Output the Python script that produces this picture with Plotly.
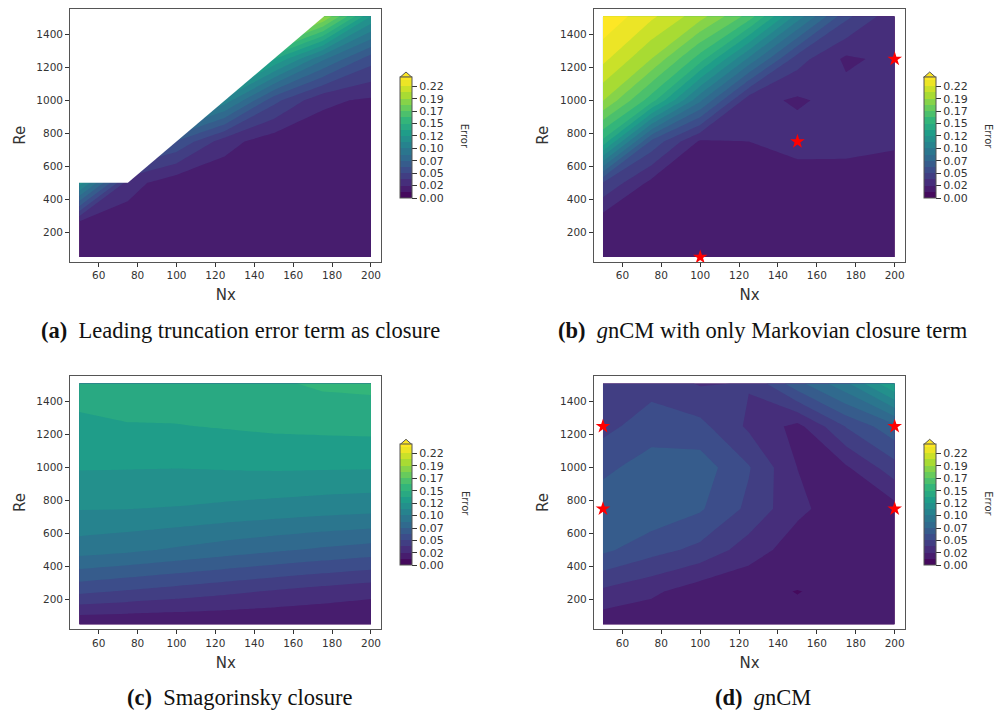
import plotly.graph_objects as go

NX = [50, 75, 100, 125, 150, 175, 200]
RE = [50, 250, 500, 750, 1000, 1250, 1510]

# rows follow RE, columns follow NX (values above the diagonal of panel a are hidden by its mask)
Z_A = [
    [.0140, .0140, .0140, .0140, .0140, .0140, .0140],
    [.0180, .0175, .0150, .0150, .0150, .0150, .0150],
    [.1170, .0300, .0160, .0155, .0150, .0150, .0150],
    [.1700, .0740, .0600, .0293, .0170, .0170, .0165],
    [.2000, .1200, .1360, .1050, .0530, .0268, .0225],
    [.2400, .2000, .1800, .1870, .1350, .0880, .0540],
    [.2600, .2600, .2500, .2500, .2470, .1980, .1220],
]
Z_B = [
    [.0140, .0140, .0140, .0140, .0140, .0140, .0140],
    [.0155, .0150, .0150, .0150, .0150, .0150, .0150],
    [.0480, .0210, .0170, .0165, .0163, .0165, .0165],
    [.1430, .0578, .0225, .0244, .0305, .0300, .0265],
    [.1960, .1520, .0880, .0290, .0225, .0295, .0290],
    [.2230, .1950, .1520, .0950, .0417, .0220, .0280],
    [.2420, .2222, .2003, .1660, .1050, .0520, .0280],
]
Z_C = [
    [.0134, .0133, .0131, .0130, .0128, .0127, .0125],
    [.0519, .0475, .0435, .0395, .0355, .0315, .0280],
    [.0911, .0880, .0835, .0790, .0750, .0710, .0675],
    [.1103, .1100, .1090, .1070, .1050, .1030, .1015],
    [.1229, .1226, .1223, .1230, .1236, .1232, .1229],
    [.1313, .1335, .1337, .1350, .1365, .1372, .1379],
    [.1400, .1410, .1420, .1430, .1445, .1485, .1495],
]
Z_D = [
    [.0165, .0155, .0150, .0140, .0140, .0140, .0140],
    [.0341, .0270, .0173, .0139, .0120, .0140, .0145],
    [.0636, .0533, .0454, .0306, .0180, .0165, .0165],
    [.0680, .0700, .0625, .0460, .0272, .0175, .0199],
    [.0581, .0665, .0675, .0498, .0243, .0228, .0438],
    [.0450, .0553, .0524, .0344, .0205, .0495, .0700],
    [.0440, .0440, .0355, .0373, .0693, .0950, .1350],
]

LEVEL_STEP = 0.0122
LEVEL_TOP = 0.2318
Z_MAX = 0.2378
CBAR_TICKS = [0, .0244, .0488, .0732, .0976, .122, .1464, .1708, .1952, .2196]
CBAR_LABELS = ["0.00", "0.02", "0.05", "0.07", "0.10", "0.12", "0.15", "0.17", "0.19", "0.22"]
X_TICKS = [60, 80, 100, 120, 140, 160, 180, 200]
Y_TICKS = [200, 400, 600, 800, 1000, 1200, 1400]

STARS_B_NX = [100, 150, 200]
STARS_B_RE = [50, 750, 1250]
STARS_D_NX = [50, 50, 200, 200]
STARS_D_RE = [750, 1250, 750, 1250]
MASK_A_NX = [49, 49, 75, 176.2, 176.2]
MASK_A_RE = [1513, 500, 500, 1513, 1513]

CAPTIONS = [
    "<b>(a)</b>  Leading truncation error term as closure",
    "<b>(b)</b>  <i>g</i>nCM with only Markovian closure term",
    "<b>(c)</b>  Smagorinsky closure",
    "<b>(d)</b>  <i>g</i>nCM",
]

W, H = 1000, 712
# frame of each panel in pixels: left, right, top, bottom
FRAMES = [(70.3, 381.3, 8.7, 261.7), (594, 905, 8.7, 261.7),
          (70.3, 381.3, 376, 629), (594, 905, 376, 629)]
CAP_POS = [(240, 330), (763, 330), (240, 697), (763, 697)]
INK = "#333333"
FRAME = "#555555"

fig = go.Figure()
shapes, annotations = [], []
layout = {}
for i, (z, fr, cap, cp) in enumerate(zip([Z_A, Z_B, Z_C, Z_D], FRAMES, CAPTIONS, CAP_POS)):
    n = "" if i == 0 else str(i + 1)
    l, r, t, b = fr
    cb_left = r + 18.7
    cb_bottom = b - 63.7
    cb_top = cb_bottom - 120.7
    fig.add_trace(go.Contour(
        x=NX, y=RE, z=z, xaxis="x" + n, yaxis="y" + n,
        colorscale="Viridis", zmin=0, zmax=Z_MAX, autocontour=False,
        contours=dict(start=0, end=LEVEL_TOP, size=LEVEL_STEP, coloring="fill", showlines=False),
        line=dict(width=0, smoothing=0), hoverinfo="skip",
        colorbar=dict(
            x=cb_left / W, xanchor="left", xpad=0, thickness=12,
            y=1 - cb_bottom / H, yanchor="bottom", ypad=0,
            lenmode="pixels", len=cb_bottom - cb_top,
            tickmode="array", tickvals=CBAR_TICKS, ticktext=CBAR_LABELS,
            ticks="outside", ticklen=5, tickcolor=INK, tickwidth=1,
            tickfont=dict(family="DejaVu Sans", size=11, color=INK),
            outlinecolor=FRAME, outlinewidth=1,
        ),
    ))
    layout["xaxis" + n] = dict(
        domain=[l / W, r / W], range=[45.4, 205.3], anchor="y" + n,
        tickvals=X_TICKS, ticks="outside", ticklen=4, tickcolor=INK,
        tickfont=dict(family="DejaVu Sans", size=10.5, color=INK),
        showline=True, mirror=True, linecolor=FRAME, linewidth=1.3,
        showgrid=False, zeroline=False,
        title=dict(text="Nx", font=dict(family="DejaVu Sans", size=15, color=INK), standoff=9),
    )
    layout["yaxis" + n] = dict(
        domain=[1 - b / H, 1 - t / H], range=[22, 1555], anchor="x" + n,
        tickvals=Y_TICKS, ticks="outside", ticklen=4, tickcolor=INK,
        tickfont=dict(family="DejaVu Sans", size=10.5, color=INK),
        showline=True, mirror=True, linecolor=FRAME, linewidth=1.3,
        showgrid=False, zeroline=False,
        title=dict(text="Re", font=dict(family="DejaVu Sans", size=15, color=INK), standoff=7),
    )
    # pointed top of the colour bar (extend="max")
    x0, x1, xm = cb_left / W, (cb_left + 12) / W, (cb_left + 6) / W
    y0, ym = 1 - cb_top / H, 1 - (cb_top - 5.3) / H
    shapes.append(dict(type="path", xref="paper", yref="paper",
                       path=f"M {x0} {y0} L {xm} {ym} L {x1} {y0} Z",
                       fillcolor="#fde725", line=dict(color=FRAME, width=1)))
    annotations.append(dict(text="Error", xref="paper", yref="paper", showarrow=False,
                            x=(r + 84) / W, y=1 - (cb_bottom - 62) / H, textangle=90,
                            xanchor="center", yanchor="middle",
                            font=dict(family="DejaVu Sans", size=10, color=INK)))
    annotations.append(dict(text=cap, xref="paper", yref="paper", showarrow=False,
                            x=cp[0] / W, y=1 - cp[1] / H, xanchor="center", yanchor="middle",
                            font=dict(family="Liberation Serif", size=22.5, color="#111111")))

fig.add_trace(go.Scatter(x=MASK_A_NX, y=MASK_A_RE, mode="lines", fill="toself",
                         fillcolor="white", line=dict(width=0, color="white"),
                         xaxis="x", yaxis="y", hoverinfo="skip", showlegend=False))
star = dict(symbol="star", size=11, color="#ff0000", line=dict(width=0))
fig.add_trace(go.Scatter(x=STARS_B_NX, y=STARS_B_RE, mode="markers", marker=star,
                         xaxis="x2", yaxis="y2", cliponaxis=False, showlegend=False))
fig.add_trace(go.Scatter(x=STARS_D_NX, y=STARS_D_RE, mode="markers", marker=star,
                         xaxis="x4", yaxis="y4", cliponaxis=False, showlegend=False))

fig.update_layout(width=W, height=H, autosize=False, margin=dict(l=0, r=0, t=0, b=0),
                  paper_bgcolor="white", plot_bgcolor="white", showlegend=False,
                  shapes=shapes, annotations=annotations, **layout)
fig.write_html("out.html", config={"displayModeBar": False},
               post_script="document.body.style.margin='0';")
